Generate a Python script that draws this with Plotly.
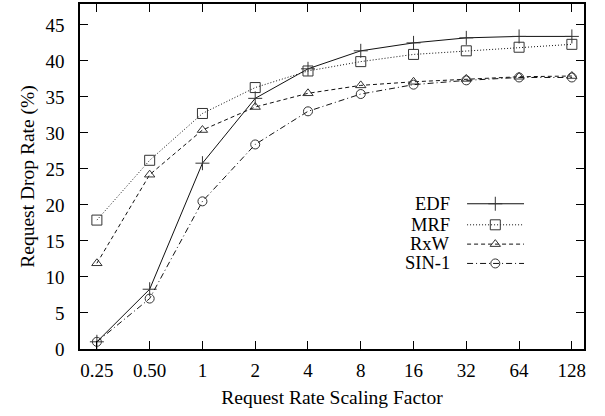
import plotly.graph_objects as go

# Request rate scaling factors (categorical, evenly spaced)
scaling = ["0.25", "0.50", "1", "2", "4", "8", "16", "32", "64", "128"]

# Request drop rate (%) per scheduling policy
edf = [1.0, 8.3, 25.8, 34.8, 38.9, 41.4, 42.5, 43.2, 43.4, 43.4]
mrf = [17.9, 26.2, 32.7, 36.3, 38.6, 39.9, 40.9, 41.4, 41.9, 42.3]
rxw = [11.9, 24.2, 30.4, 33.6, 35.5, 36.6, 37.1, 37.5, 37.8, 37.9]
sin1 = [1.0, 7.0, 20.5, 28.4, 33.0, 35.4, 36.7, 37.3, 37.7, 37.7]

series = [
    ("EDF", edf, "solid", "cross-thin-open", 10),
    ("MRF", mrf, "1px,2px", "square-open", 10),
    ("RxW", rxw, "4px,3px", "triangle-up-open", 9),
    ("SIN-1", sin1, "6px,3px,1px,3px", "circle-open", 9),
]

FONT = "Liberation Serif, Times New Roman, serif"
INK = "#111111"
MARK = "#333333"

fig = go.Figure()
for name, vals, dash, sym, size in series:
    fig.add_trace(go.Scatter(
        x=scaling, y=vals, name=name, mode="lines+markers",
        line=dict(color=INK, width=1, dash=dash),
        marker=dict(symbol=sym, size=size, color=MARK,
                    line=dict(color=MARK, width=1)),
        showlegend=False,
    ))

# Key in the lower right: label text on the left, line sample on the right
key_rows = [0.421, 0.360, 0.304, 0.248]
for (name, vals, dash, sym, size), ky in zip(series, key_rows):
    fig.add_trace(go.Scatter(
        x=[0.768, 0.881], y=[ky, ky], xaxis="x2", yaxis="y2",
        mode="lines", line=dict(color=INK, width=1, dash=dash),
        showlegend=False, hoverinfo="skip",
    ))
    fig.add_trace(go.Scatter(
        x=[0.824], y=[ky], xaxis="x2", yaxis="y2", mode="markers",
        marker=dict(symbol=sym, size=size, color=MARK,
                    line=dict(color=MARK, width=1)),
        showlegend=False, hoverinfo="skip",
    ))
    fig.add_annotation(
        x=0.738, y=ky, xref="paper", yref="paper", text=name,
        showarrow=False, xanchor="right", yanchor="middle",
        font=dict(family=FONT, size=18.5, color="black"),
    )

axis_common = dict(
    showline=True, linecolor="black", linewidth=1.5, mirror="allticks",
    ticks="inside", ticklen=8, tickwidth=1, tickcolor="black",
    showgrid=False, zeroline=False,
    tickfont=dict(family=FONT, size=19, color="black"),
)

fig.update_layout(
    width=605, height=416,
    margin=dict(l=80, r=21, t=2, b=67),
    paper_bgcolor="white", plot_bgcolor="white",
    xaxis=dict(
        type="category", range=[-0.32, 9.23],
        title=dict(text="Request Rate Scaling Factor", standoff=11,
                   font=dict(family=FONT, size=19.5, color="black")),
        ticklabelstandoff=3,
        **axis_common,
    ),
    yaxis=dict(
        range=[0, 47.9], tickmode="linear", tick0=0, dtick=5,
        title=dict(text="Request Drop Rate (%)", standoff=6,
                   font=dict(family=FONT, size=19.5, color="black")),
        ticklabelstandoff=10,
        **axis_common,
    ),
    xaxis2=dict(overlaying="x", range=[0, 1], visible=False, fixedrange=True),
    yaxis2=dict(overlaying="y", range=[0, 1], visible=False, fixedrange=True),
)

fig.write_html("out.html")
